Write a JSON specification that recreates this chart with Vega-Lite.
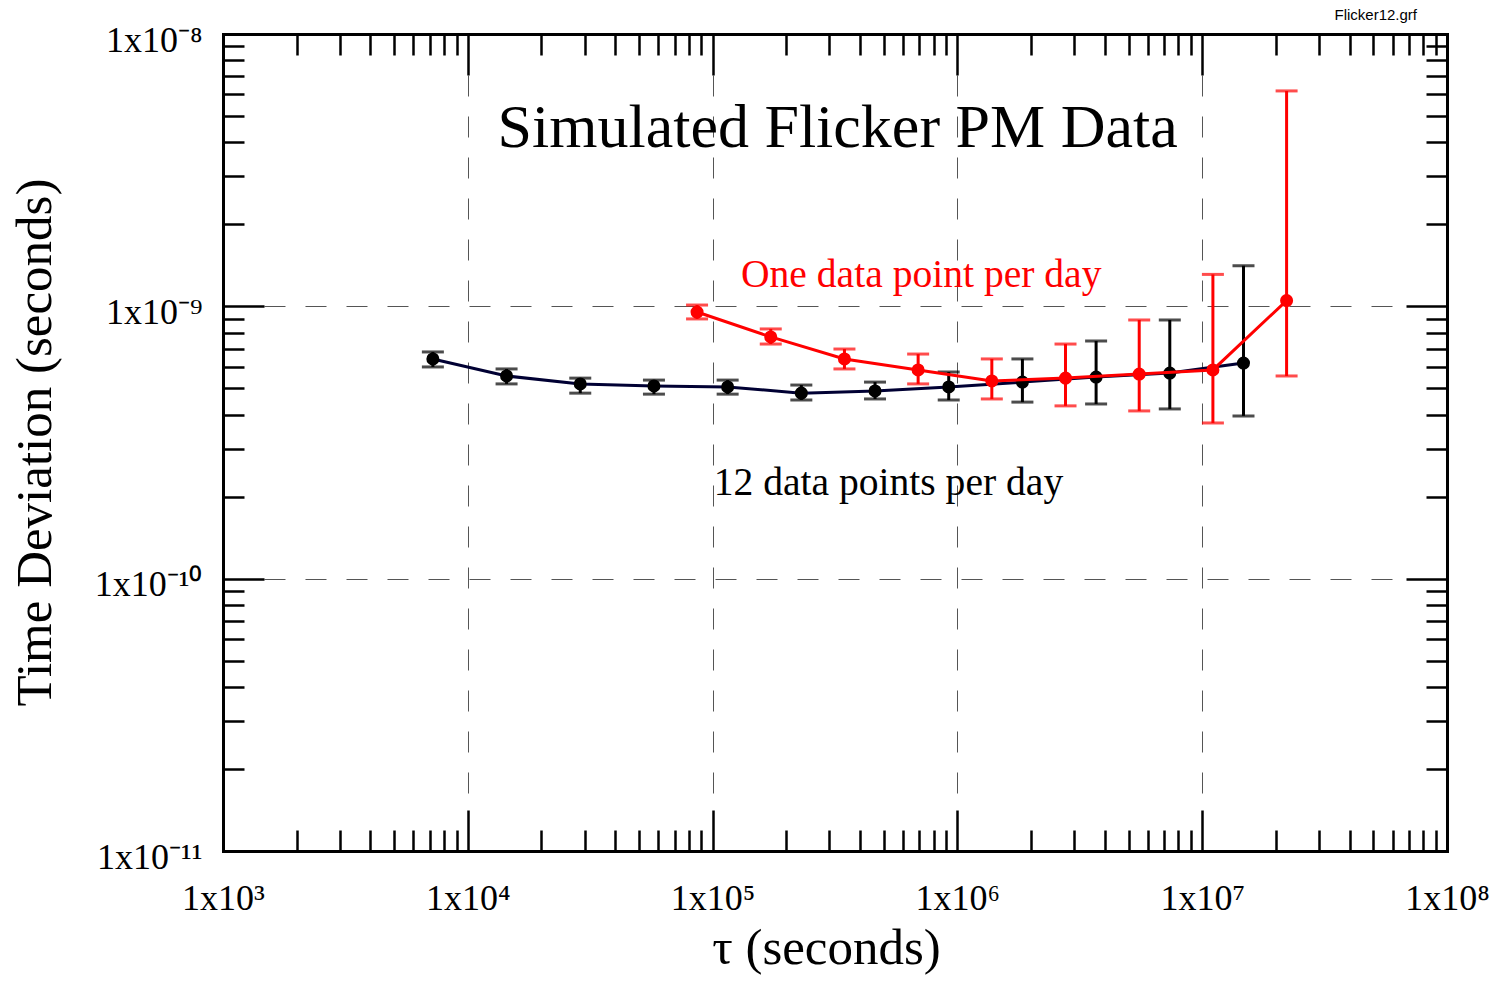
{
  "$schema": "https://vega.github.io/schema/vega-lite/v6.json",
  "width": 1224,
  "height": 817,
  "autosize": {"type": "none"},
  "padding": {"left": 223, "top": 34, "right": 49, "bottom": 133},
  "background": "white",
  "title": {"text": "Flicker12.grf", "anchor": "end", "frame": "group", "font": "Liberation Sans", "fontSize": 15, "fontWeight": "normal", "color": "#000", "offset": 9, "dx": -30, "dy": 10},
  "config": {
    "view": {"stroke": null},
    "axis": {
      "labelFont": "Liberation Serif", "labelFontSize": 36, "labelColor": "#000",
      "titleFont": "Liberation Serif", "titleFontSize": 51, "titleFontWeight": "normal", "titleColor": "#000",
      "domainColor": "#000", "domainWidth": 3, "domainCap": "square",
      "tickColor": "#000", "tickWidth": 2.5,
      "labelOverlap": false, "labelFlush": false, "labelBound": false, "grid": false
    }
  },
  "datasets": {
    "black": [
      {"tau": 7200, "v": 6.41e-10, "lo": 5.99e-10, "hi": 6.80e-10},
      {"tau": 14400, "v": 5.55e-10, "lo": 5.19e-10, "hi": 5.89e-10},
      {"tau": 28800, "v": 5.19e-10, "lo": 4.80e-10, "hi": 5.45e-10},
      {"tau": 57600, "v": 5.10e-10, "lo": 4.76e-10, "hi": 5.36e-10},
      {"tau": 115200, "v": 5.06e-10, "lo": 4.76e-10, "hi": 5.36e-10},
      {"tau": 230400, "v": 4.80e-10, "lo": 4.53e-10, "hi": 5.14e-10},
      {"tau": 460800, "v": 4.89e-10, "lo": 4.57e-10, "hi": 5.27e-10},
      {"tau": 921600, "v": 5.06e-10, "lo": 4.53e-10, "hi": 5.74e-10},
      {"tau": 1843200, "v": 5.27e-10, "lo": 4.45e-10, "hi": 6.41e-10},
      {"tau": 3686400, "v": 5.50e-10, "lo": 4.38e-10, "hi": 7.46e-10},
      {"tau": 7372800, "v": 5.69e-10, "lo": 4.20e-10, "hi": 8.91e-10},
      {"tau": 14745600, "v": 6.19e-10, "lo": 3.96e-10, "hi": 1.41e-9}
    ],
    "red": [
      {"tau": 86400, "v": 9.53e-10, "lo": 8.99e-10, "hi": 1.011e-9},
      {"tau": 172800, "v": 7.72e-10, "lo": 7.27e-10, "hi": 8.26e-10},
      {"tau": 345600, "v": 6.41e-10, "lo": 5.89e-10, "hi": 6.97e-10},
      {"tau": 691200, "v": 5.84e-10, "lo": 5.19e-10, "hi": 6.68e-10},
      {"tau": 1382400, "v": 5.32e-10, "lo": 4.57e-10, "hi": 6.41e-10},
      {"tau": 2764800, "v": 5.45e-10, "lo": 4.31e-10, "hi": 7.27e-10},
      {"tau": 5529600, "v": 5.64e-10, "lo": 4.13e-10, "hi": 8.91e-10},
      {"tau": 11059200, "v": 5.84e-10, "lo": 3.73e-10, "hi": 1.31e-9},
      {"tau": 22118400, "v": 1.05e-9, "lo": 5.55e-10, "hi": 6.18e-9}
    ],
    "t1": [{"tau": 324000, "v": 3.85e-9, "label": "Simulated Flicker PM Data"}],
    "t2": [{"tau": 130600, "v": 1.177e-9, "label": "One data point per day"}],
    "t3": [{"tau": 101000, "v": 2.03e-10, "label": "12 data points per day"}]
  },
  "resolve": {"axis": {"x": "independent", "y": "independent"}},
  "layer": [
    {
      "data": {"name": "black"},
      "mark": {"type": "line", "color": "#000033", "strokeWidth": 3},
      "encoding": {
        "x": {"field": "tau", "type": "quantitative",
          "scale": {"type": "log", "domain": [1000, 100000000], "nice": false},
          "axis": {
            "orient": "bottom", "title": "τ (seconds)",
            "values": [1000,2000,3000,4000,5000,6000,7000,8000,9000,10000,20000,30000,40000,50000,60000,70000,80000,90000,100000,200000,300000,400000,500000,600000,700000,800000,900000,1000000,2000000,3000000,4000000,5000000,6000000,7000000,8000000,9000000,10000000,20000000,30000000,40000000,50000000,60000000,70000000,80000000,90000000,100000000],
            "labelExpr": "datum.value==1000?'1x10³':datum.value==10000?'1x10⁴':datum.value==100000?'1x10⁵':datum.value==1000000?'1x10⁶':datum.value==10000000?'1x10⁷':datum.value==100000000?'1x10⁸':''",
            "labelPadding": 71, "labelAlign": "center", "labelBaseline": "top",
            "tickSize": {"condition": {"test": "abs(log(datum.value)/LN10 - round(log(datum.value)/LN10)) < 0.001", "value": -41}, "value": -21},
            "titleX": 603, "titleY": 112, "titleAlign": "center", "titleBaseline": "alphabetic", "titleAnchor": null,
            "grid": true, "gridColor": "#555", "gridWidth": 1, "gridDash": [21, 20],
            "gridOpacity": {"condition": {"test": "abs(log(datum.value)/LN10 - round(log(datum.value)/LN10)) < 0.001", "value": 1}, "value": 0}
          }
        },
        "y": {"field": "v", "type": "quantitative",
          "scale": {"type": "log", "domain": [1e-11, 1e-8], "nice": false},
          "axis": {
            "orient": "left", "title": "Time Deviation (seconds)",
            "values": [1e-11,2e-11,3e-11,4e-11,5e-11,6e-11,7e-11,8e-11,9e-11,1e-10,2e-10,3e-10,4e-10,5e-10,6e-10,7e-10,8e-10,9e-10,1e-9,2e-9,3e-9,4e-9,5e-9,6e-9,7e-9,8e-9,9e-9,1e-8],
            "labelExpr": "datum.value==1e-11?'1x10⁻¹¹':datum.value==1e-10?'1x10⁻¹⁰':datum.value==1e-9?'1x10⁻⁹':datum.value==1e-8?'1x10⁻⁸':''",
            "labelPadding": 62, "labelAlign": "right", "labelBaseline": "middle", "labelOffset": 6,
            "tickSize": {"condition": {"test": "abs(log(datum.value)/LN10 - round(log(datum.value)/LN10)) < 0.001", "value": -41}, "value": -21},
            "titleX": -173, "titleY": 408, "titleAngle": 270, "titleAlign": "center", "titleBaseline": "alphabetic", "titleAnchor": null,
            "grid": true, "gridColor": "#555", "gridWidth": 1, "gridDash": [21, 20],
            "gridOpacity": {"condition": {"test": "abs(log(datum.value)/LN10 - round(log(datum.value)/LN10)) < 0.001", "value": 1}, "value": 0}
          }
        }
      }
    },
    {
      "data": {"name": "black"},
      "mark": {"type": "rule", "color": "#000", "strokeWidth": 3},
      "encoding": {
        "x": {"field": "tau", "type": "quantitative",
          "scale": {"type": "log", "domain": [1000, 100000000], "nice": false},
          "axis": {
            "orient": "top", "title": null, "labels": false,
            "values": [1000,2000,3000,4000,5000,6000,7000,8000,9000,10000,20000,30000,40000,50000,60000,70000,80000,90000,100000,200000,300000,400000,500000,600000,700000,800000,900000,1000000,2000000,3000000,4000000,5000000,6000000,7000000,8000000,9000000,10000000,20000000,30000000,40000000,50000000,60000000,70000000,80000000,90000000,100000000],
            "tickSize": {"condition": {"test": "abs(log(datum.value)/LN10 - round(log(datum.value)/LN10)) < 0.001", "value": -41}, "value": -21}
          }
        },
        "y": {"field": "lo", "type": "quantitative",
          "scale": {"type": "log", "domain": [1e-11, 1e-8], "nice": false},
          "axis": {
            "orient": "right", "title": null, "labels": false,
            "values": [1e-11,2e-11,3e-11,4e-11,5e-11,6e-11,7e-11,8e-11,9e-11,1e-10,2e-10,3e-10,4e-10,5e-10,6e-10,7e-10,8e-10,9e-10,1e-9,2e-9,3e-9,4e-9,5e-9,6e-9,7e-9,8e-9,9e-9,1e-8],
            "tickSize": {"condition": {"test": "abs(log(datum.value)/LN10 - round(log(datum.value)/LN10)) < 0.001", "value": -41}, "value": -21}
          }
        },
        "y2": {"field": "hi"}
      }
    },
    {
      "data": {"name": "black"},
      "mark": {"type": "tick", "orient": "horizontal", "color": "#000", "size": 22, "thickness": 3},
      "encoding": {
        "x": {"field": "tau", "type": "quantitative", "axis": null},
        "y": {"field": "lo", "type": "quantitative", "axis": null}
      }
    },
    {
      "data": {"name": "black"},
      "mark": {"type": "tick", "orient": "horizontal", "color": "#000", "size": 22, "thickness": 3},
      "encoding": {
        "x": {"field": "tau", "type": "quantitative", "axis": null},
        "y": {"field": "hi", "type": "quantitative", "axis": null}
      }
    },
    {
      "data": {"name": "black"},
      "mark": {"type": "circle", "color": "#000", "size": 170, "opacity": 1},
      "encoding": {
        "x": {"field": "tau", "type": "quantitative", "axis": null},
        "y": {"field": "v", "type": "quantitative", "axis": null}
      }
    },
    {
      "data": {"name": "red"},
      "mark": {"type": "line", "color": "#ff0000", "strokeWidth": 3},
      "encoding": {
        "x": {"field": "tau", "type": "quantitative", "axis": null},
        "y": {"field": "v", "type": "quantitative", "axis": null}
      }
    },
    {
      "data": {"name": "red"},
      "mark": {"type": "rule", "color": "#ff0000", "strokeWidth": 3},
      "encoding": {
        "x": {"field": "tau", "type": "quantitative", "axis": null},
        "y": {"field": "lo", "type": "quantitative", "axis": null},
        "y2": {"field": "hi"}
      }
    },
    {
      "data": {"name": "red"},
      "mark": {"type": "tick", "orient": "horizontal", "color": "#ff0000", "size": 22, "thickness": 3},
      "encoding": {
        "x": {"field": "tau", "type": "quantitative", "axis": null},
        "y": {"field": "lo", "type": "quantitative", "axis": null}
      }
    },
    {
      "data": {"name": "red"},
      "mark": {"type": "tick", "orient": "horizontal", "color": "#ff0000", "size": 22, "thickness": 3},
      "encoding": {
        "x": {"field": "tau", "type": "quantitative", "axis": null},
        "y": {"field": "hi", "type": "quantitative", "axis": null}
      }
    },
    {
      "data": {"name": "red"},
      "mark": {"type": "circle", "color": "#ff0000", "size": 170, "opacity": 1},
      "encoding": {
        "x": {"field": "tau", "type": "quantitative", "axis": null},
        "y": {"field": "v", "type": "quantitative", "axis": null}
      }
    },
    {
      "data": {"name": "t1"},
      "mark": {"type": "text", "font": "Liberation Serif", "fontSize": 62, "color": "#000", "align": "center", "baseline": "alphabetic"},
      "encoding": {
        "x": {"field": "tau", "type": "quantitative", "axis": null},
        "y": {"field": "v", "type": "quantitative", "axis": null},
        "text": {"field": "label"}
      }
    },
    {
      "data": {"name": "t2"},
      "mark": {"type": "text", "font": "Liberation Serif", "fontSize": 39.6, "color": "#ff0000", "align": "left", "baseline": "alphabetic"},
      "encoding": {
        "x": {"field": "tau", "type": "quantitative", "axis": null},
        "y": {"field": "v", "type": "quantitative", "axis": null},
        "text": {"field": "label"}
      }
    },
    {
      "data": {"name": "t3"},
      "mark": {"type": "text", "font": "Liberation Serif", "fontSize": 39.6, "color": "#000", "align": "left", "baseline": "alphabetic"},
      "encoding": {
        "x": {"field": "tau", "type": "quantitative", "axis": null},
        "y": {"field": "v", "type": "quantitative", "axis": null},
        "text": {"field": "label"}
      }
    }
  ]
}
